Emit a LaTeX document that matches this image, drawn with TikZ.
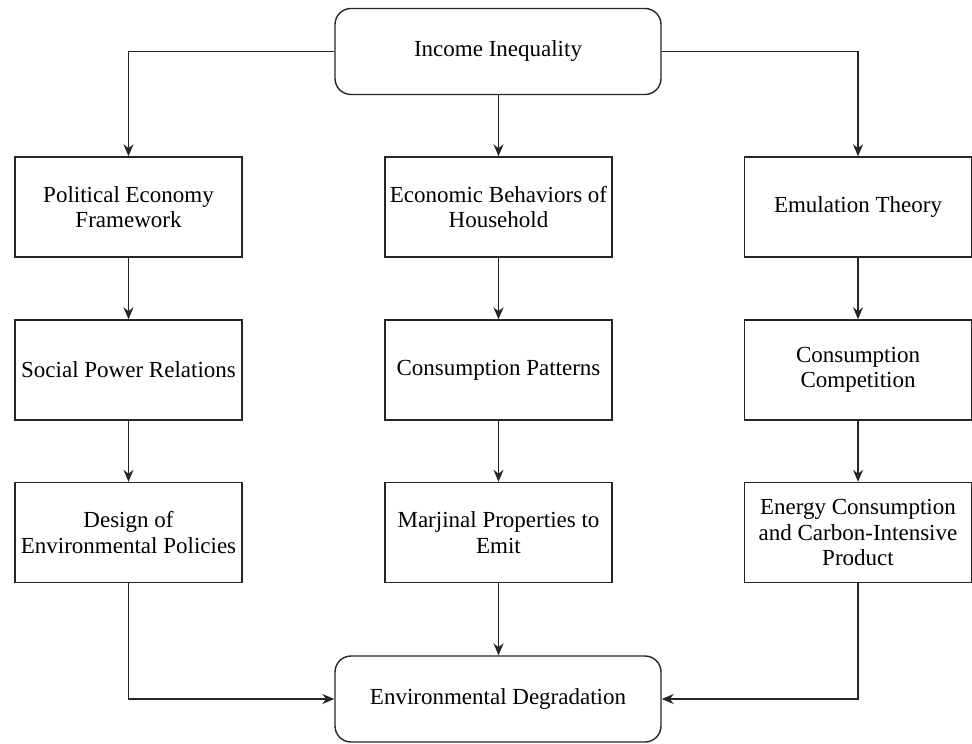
\documentclass[tikz,border=0pt]{standalone}
\usepackage{fontspec}
\setmainfont{LiberationSerif}[Extension=.ttf, UprightFont=*-Regular, BoldFont=*-Bold]
\usetikzlibrary{arrows.meta}

\begin{document}
\begin{tikzpicture}[x=0.5pt, y=-0.5pt, line width=0.7pt, draw=black!85,
    ->, >={Stealth[length=6pt, width=5pt]},
    box/.style={draw, rectangle, align=center, minimum width=113.5pt, minimum height=50pt, inner sep=2pt,
        font=\fontsize{11.5}{12.8}\selectfont},
    roundbox/.style={box, rounded corners=8pt, minimum width=163pt, minimum height=43pt}]
    \useasboundingbox (0,0) rectangle (972,743);

    \node[roundbox] (top) at (498, 51.5) {Income Inequality};

    \node[box] (L1) at (128.5, 207) {Political Economy\\Framework};
    \node[box] (M1) at (498.5, 207) {Economic Behaviors of\\Household};
    \node[box] (R1) at (858, 207) {Emulation Theory};

    \node[box] (L2) at (128.5, 370) {Social Power Relations};
    \node[box] (M2) at (498.5, 370) {Consumption Patterns};
    \node[box] (R2) at (858, 370) {Consumption\\Competition};

    \node[box] (L3) at (128.5, 532.5) {Design of\\Environmental Policies};
    \node[box] (M3) at (498.5, 532.5) {Marjinal Properties to\\Emit};
    \node[box] (R3) at (858, 532.5) {Energy Consumption\\and Carbon-Intensive\\Product};

    \node[roundbox] (bot) at (498, 699) {Environmental Degradation};

    \draw (top.west) -| (L1.north);
    \draw (top.south -| M1.north) -- (M1.north);
    \draw (top.east) -| (R1.north);

    \draw (L1) -- (L2);
    \draw (L2) -- (L3);
    \draw (M1) -- (M2);
    \draw (M2) -- (M3);
    \draw (R1) -- (R2);
    \draw (R2) -- (R3);

    \draw (L3.south) |- (bot.west);
    \draw (M3.south) -- (bot.north -| M3.south);
    \draw (R3.south) |- (bot.east);
\end{tikzpicture}
\end{document}
